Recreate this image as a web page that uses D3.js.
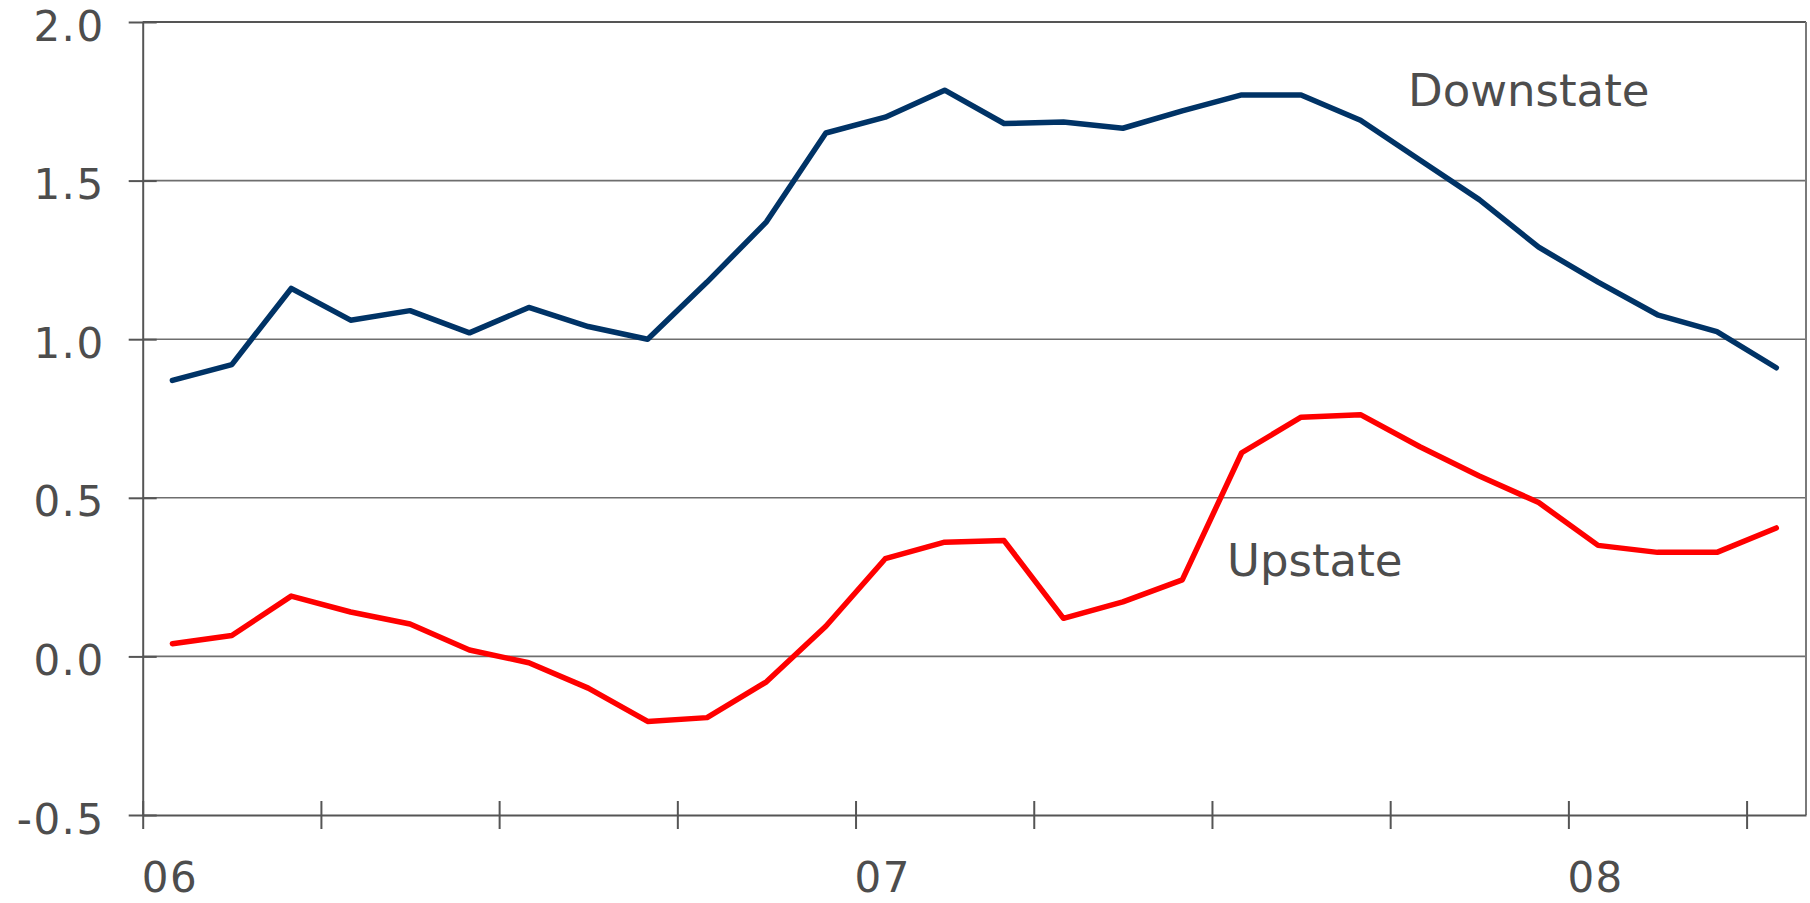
<!DOCTYPE html>
<html>
<head>
<meta charset="utf-8">
<script src="https://cdn.jsdelivr.net/npm/d3@7"></script>
<style>
    body { margin: 0; background: #fff; }
    text { font-family: "DejaVu Sans", Verdana, sans-serif; fill: #4d4d4d; }
</style>
</head>
<body>
<svg id="chart"></svg>
<script>
// monthly values, Jan 2006 .. Apr 2008
let downstate = [0.87, 0.92, 1.16, 1.06, 1.09, 1.02, 1.10, 1.04, 1.00, 1.18,
                 1.37, 1.65, 1.70, 1.785, 1.68, 1.685, 1.665, 1.72, 1.77, 1.77,
                 1.69, 1.565, 1.44, 1.29, 1.18, 1.077, 1.024, 0.91];
let upstate   = [0.04, 0.066, 0.19, 0.14, 0.102, 0.02, -0.02, -0.10, -0.205, -0.193,
                 -0.08, 0.095, 0.308, 0.36, 0.365, 0.12, 0.172, 0.241, 0.642, 0.754,
                 0.762, 0.661, 0.569, 0.485, 0.35, 0.328, 0.328, 0.405];
let yearLabels = ["06", "07", "08"];
let yTicks     = [-0.5, 0.0, 0.5, 1.0, 1.5, 2.0];

let svgWidth = 1810, svgHeight = 903;
let plotLeft = 142.7, plotRight = 1806, plotTop = 22, plotBottom = 815;

let svg = d3.select("#chart").attr("width", svgWidth).attr("height", svgHeight);

let x = d3.scaleLinear().domain([0, downstate.length]).range([plotLeft, plotRight]);
let y = d3.scaleLinear().domain([-0.5, 2.0]).range([plotBottom, plotTop]);

// plain hyphen for negatives, like the original
let fmt = d => d.toFixed(1);

// grid lines
svg.append("g")
   .selectAll("line")
   .data(yTicks.filter(d => d > -0.5 && d < 2.0))
   .enter()
   .append("line")
   .attr("x1", plotLeft).attr("x2", plotRight)
   .attr("y1", d => y(d)).attr("y2", d => y(d))
   .attr("stroke", "#6e6e6e")
   .attr("stroke-width", 1.6);

// frame top and right
svg.append("line")
   .attr("x1", plotLeft).attr("x2", plotRight)
   .attr("y1", y(2.0)).attr("y2", y(2.0))
   .attr("stroke", "#555").attr("stroke-width", 2);
svg.append("line")
   .attr("x1", plotRight).attr("x2", plotRight)
   .attr("y1", y(2.0)).attr("y2", y(-0.5))
   .attr("stroke", "#7a7a7a").attr("stroke-width", 2);

// y axis
let yAxis = svg.append("g")
               .attr("transform", "translate(" + plotLeft + ",0)")
               .call(d3.axisLeft(y).tickValues(yTicks).tickFormat(fmt).tickSizeOuter(0));
yAxis.select(".domain").attr("stroke", "#555").attr("stroke-width", 2);
yAxis.selectAll(".tick line").attr("x1", 14).attr("x2", -14).attr("stroke", "#555").attr("stroke-width", 2);
yAxis.selectAll(".tick text")
     .attr("x", -38)
     .attr("dy", 18)
     .style("font-size", "42px")
     .style("letter-spacing", "1.5px")
     .attr("fill", "#4d4d4d");

// x axis, quarterly ticks
let xAxis = svg.append("g")
               .attr("transform", "translate(0," + plotBottom + ")")
               .call(d3.axisBottom(x).tickValues(d3.range(0, downstate.length, 3)).tickFormat("").tickSizeOuter(0));
xAxis.select(".domain").attr("stroke", "#555").attr("stroke-width", 2);
xAxis.selectAll(".tick line").attr("y1", -14).attr("y2", 14).attr("stroke", "#555").attr("stroke-width", 2);

svg.append("g")
   .selectAll("text")
   .data(yearLabels)
   .enter()
   .append("text")
   .attr("x", (d, i) => x(i * 12) - 1)
   .attr("y", 892)
   .style("font-size", "42px")
   .style("letter-spacing", "1.5px")
   .text(d => d);

// lines
let line = d3.line()
             .x((d, i) => x(i + 0.5))
             .y(d => y(d));

svg.append("path")
   .attr("d", line(upstate))
   .attr("fill", "none")
   .attr("stroke", "#ff0000")
   .attr("stroke-width", 5.5)
   .attr("stroke-linejoin", "round")
   .attr("stroke-linecap", "round");

svg.append("path")
   .attr("d", line(downstate))
   .attr("fill", "none")
   .attr("stroke", "#003366")
   .attr("stroke-width", 5.5)
   .attr("stroke-linejoin", "round")
   .attr("stroke-linecap", "round");

// series labels
svg.append("text")
   .attr("x", 1408).attr("y", 106)
   .style("font-size", "45px")
   .text("Downstate");
svg.append("text")
   .attr("x", 1227).attr("y", 576)
   .style("font-size", "45px")
   .text("Upstate");
</script>
</body>
</html>
